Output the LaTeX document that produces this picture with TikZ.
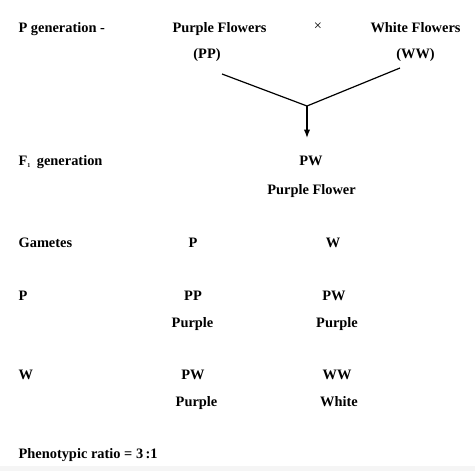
\documentclass[tikz,border=0pt]{standalone}
\usepackage{fontspec}
\setmainfont{Liberation Serif}
\usepackage{tikz}
\usetikzlibrary{arrows.meta}

\begin{document}
\begin{tikzpicture}[>=Latex,x=1pt,y=-1pt,line width=1.2pt,
  every node/.style={font=\fontsize{14.4}{16}\selectfont\bfseries,inner sep=0pt},
  lft/.style={anchor=base west},ctr/.style={anchor=base}]
\useasboundingbox (0,0) rectangle (475,471);
\fill[black!4] (0,466) rectangle (475,471);
% parents
\node[lft] (pgen) at (18,32){P generation -};
\node[ctr] (pf) at (219.5,32){Purple Flowers};\node[ctr] (pp) at (207,59){(PP)};
\node (cross) at (318,27){\mdseries ×};
\node[ctr] (wf) at (415.5,32){White Flowers};\node[ctr] (ww) at (415.5,59){(WW)};
\coordinate (lt) at (222,74);\coordinate (rt) at (400,68);\coordinate (jn) at (307,106);
\draw (lt)--(jn)--(rt);
% F1
\node[lft] (fgen) at (18,165){F\textsubscript{\fontsize{6}{6}\selectfont 1}\, generation};
\node[ctr] (pw) at (311,165){PW};\node[ctr] (pwf) at (311.5,194){Purple Flower};
\draw[->] (jn)--(jn|-pw.north)[shorten >=17pt];
% gametes and grid
\node[lft] (gam) at (18,247){Gametes};
\node[ctr] (gp) at (193,247){P};\node[ctr] (gw) at (333,247){W};
\node[lft] (rp) at (18,300){P};
\node[ctr] (c11) at (193,300){PP};\node[ctr] (t11) at (192.5,327){Purple};
\node[ctr] (c12) at (334,300){PW};\node[ctr] (t12) at (337,327){Purple};
\node[lft] (rw) at (18,379){W};
\node[ctr] (c21) at (193,379){PW};\node[ctr] (t21) at (196.5,406){Purple};
\node[ctr] (c22) at (337,379){WW};\node[ctr] (t22) at (339,406){White};
\node[lft] (ratio) at (18,458){Phenotypic ratio = 3\,:1};
\end{tikzpicture}
\end{document}
